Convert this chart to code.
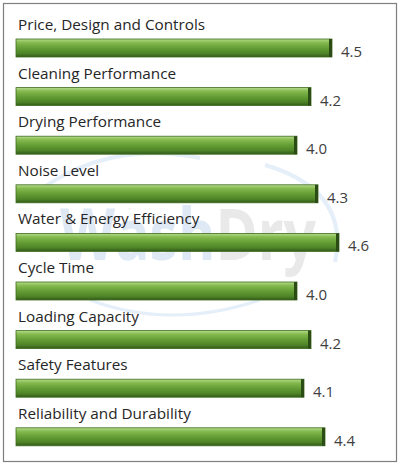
<!DOCTYPE html>
<html>
<head>
<meta charset="utf-8">
<script src="https://cdn.jsdelivr.net/npm/d3@7"></script>
<style>
  body { margin: 0; background: #fff; }
  svg { display: block; }
</style>
</head>
<body>
<script>
  var categories = [
    'Price, Design and Controls',
    'Cleaning Performance',
    'Drying Performance',
    'Noise Level',
    'Water & Energy Efficiency',
    'Cycle Time',
    'Loading Capacity',
    'Safety Features',
    'Reliability and Durability'
  ];
  var ratings = [4.5, 4.2, 4.0, 4.3, 4.6, 4.0, 4.2, 4.1, 4.4];
  var ratingDomain = [0, 5];

  var dataset = categories.map((c, i) => ({ name: c, value: ratings[i] }));

  var w = 400;
  var h = 464;
  var step = 48.6;
  var rowTop = 30;
  var barH = 18;

  var svg = d3
    .select('body')
    .append('svg')
    .attr('width', w)
    .attr('height', h);

  var defs = svg.append('defs');
  var grad = defs
    .append('linearGradient')
    .attr('id', 'bar-fill')
    .attr('x1', 0)
    .attr('y1', 0)
    .attr('x2', 0)
    .attr('y2', 1);
  [
    ['0%', '#b5dc8c'],
    ['20%', '#85ba4f'],
    ['50%', '#649e35'],
    ['80%', '#4e8427'],
    ['100%', '#33591a']
  ].forEach(s => grad.append('stop').attr('offset', s[0]).attr('stop-color', s[1]));

  // frame
  svg
    .append('rect')
    .attr('x', 3.5)
    .attr('y', 3.5)
    .attr('width', 393)
    .attr('height', 458)
    .attr('fill', '#fff')
    .attr('stroke', '#7f7f7f')
    .attr('stroke-width', 1.2);

  // faint watermark behind the bars
  var mark = svg.append('g').attr('id', 'watermark').attr('opacity', 0.45);
  mark
    .append('path')
    .attr('d', 'M40,190 Q110,140 200,158')
    .attr('fill', 'none')
    .attr('stroke', '#c6dcf2')
    .attr('stroke-width', 4);
  mark
    .append('path')
    .attr('d', 'M265,165 Q350,190 335,262')
    .attr('fill', 'none')
    .attr('stroke', '#c6dcf2')
    .attr('stroke-width', 4);
  mark
    .append('path')
    .attr('d', 'M90,300 Q170,330 260,300')
    .attr('fill', 'none')
    .attr('stroke', '#c6dcf2')
    .attr('stroke-width', 3);
  var wm = mark
    .append('text')
    .attr('x', 60)
    .attr('y', 260)
    .attr('font-family', 'Open Sans, sans-serif')
    .attr('font-weight', 'bold')
    .attr('font-size', 72)
    .attr('textLength', 256)
    .attr('lengthAdjust', 'spacingAndGlyphs');
  wm.append('tspan').attr('fill', '#b9d0ec').text('Wash');
  wm.append('tspan').attr('fill', '#cfcfcf').text('Dry');

  var xScale = d3
    .scaleLinear()
    .domain(ratingDomain)
    .range([17, 367]);

  var yScale = d3
    .scaleBand()
    .domain(categories)
    .range([rowTop, rowTop + step * categories.length]);

  var rows = svg
    .append('g')
    .attr('id', 'bars')
    .selectAll('g')
    .data(dataset)
    .enter()
    .append('g')
    .attr('transform', d => `translate(0, ${yScale(d.name)})`);

  rows
    .append('text')
    .attr('x', 18)
    .attr('y', 0)
    .attr('fill', '#262626')
    .attr('font-family', 'Open Sans, sans-serif')
    .attr('font-size', 15.3)
    .text(d => d.name);

  rows
    .append('rect')
    .attr('x', 16)
    .attr('y', 9)
    .attr('width', d => xScale(d.value) - 16)
    .attr('height', barH)
    .attr('fill', 'url(#bar-fill)')
    .attr('stroke', '#3f6d1f')
    .attr('stroke-width', 0.8);

  // darker right end of each bar
  rows
    .append('rect')
    .attr('x', d => xScale(d.value) - 3)
    .attr('y', 9)
    .attr('width', 3)
    .attr('height', barH)
    .attr('fill', '#2b4c14');

  rows
    .append('text')
    .attr('x', d => xScale(d.value) + 9)
    .attr('y', 27)
    .attr('fill', '#404040')
    .attr('font-family', 'Open Sans, sans-serif')
    .attr('font-size', 15)
    .text(d => d3.format('.1f')(d.value));
</script>
</body>
</html>
